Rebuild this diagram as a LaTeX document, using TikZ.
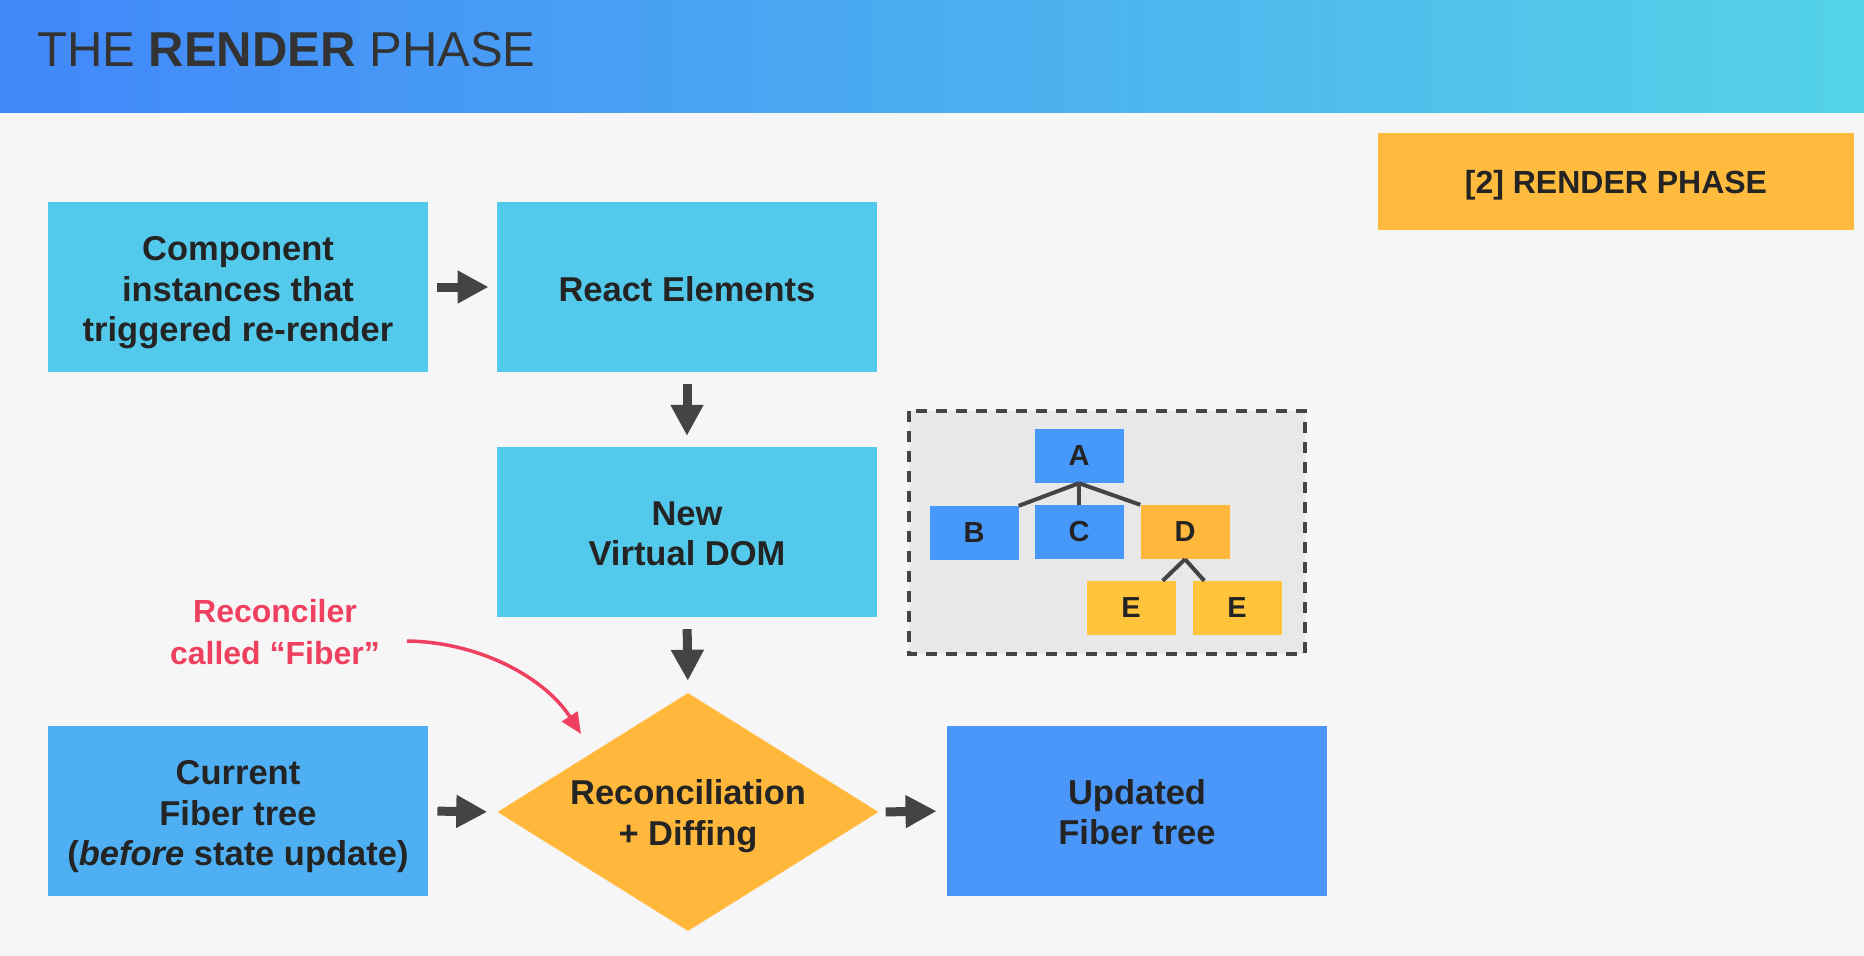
\documentclass[tikz,border=0pt]{standalone}
\usepackage{fontspec}
\setmainfont{Liberation Sans}
\usetikzlibrary{arrows.meta,shapes.geometric}
\definecolor{bg}{HTML}{F6F6F6}
\definecolor{hdrL}{HTML}{4287FA}
\definecolor{hdrR}{HTML}{54D3E7}
\definecolor{cyanbox}{HTML}{53C9EB}
\definecolor{curblue}{HTML}{4FAFF3}
\definecolor{updblue}{HTML}{4A97F9}
\definecolor{treeblue}{HTML}{4698FA}
\definecolor{orangeD}{HTML}{FFB83C}
\definecolor{yellowE}{HTML}{FFC43A}
\definecolor{phase}{HTML}{FFBB3D}
\definecolor{txt}{HTML}{242424}
\definecolor{titletxt}{HTML}{333333}
\definecolor{arr}{HTML}{444444}
\definecolor{redtxt}{HTML}{F0405F}
\definecolor{dashfill}{HTML}{E8E8E8}
\begin{document}
\begin{tikzpicture}[x=1pt,y=-1pt,
  box/.style={rectangle, inner sep=0pt, minimum width=380.5pt, minimum height=170pt},
  boxtext/.style={inner sep=0pt, align=center, text=txt, font=\fontsize{34.5}{40.5}\selectfont\bfseries},
  bigarrow/.style={draw=arr, line width=9pt, -{Triangle[length=31pt,width=31pt]}},
  treenode/.style={rectangle, inner sep=0pt, minimum width=89pt, minimum height=54pt,
    text=txt, font=\fontsize{29}{30}\selectfont\bfseries},
  treeedge/.style={draw=arr, line width=4pt}
]
\useasboundingbox (0,0) rectangle (1864,956);
\fill[bg] (0,0) rectangle (1864,956);
\shade[left color=hdrL, right color=hdrR] (0,0) rectangle (1864,112);
\node[anchor=base west, inner sep=0pt, text=titletxt, font=\fontsize{49}{55}\selectfont] (title) at (37,66)
  {THE \textbf{RENDER} PHASE};

% phase label
\node[rectangle, fill=phase, inner sep=0pt, minimum width=476pt, minimum height=97pt] (phaselbl) at (1616,181.5) {};
\node[inner sep=0pt, text=txt, font=\fontsize{32}{36}\selectfont\bfseries] (phasetxt)
  at ([yshift=-4pt]phaselbl.center) {[2] RENDER PHASE};

% main boxes
\node[box, fill=cyanbox] (comp) at (238,287) {};
\node[box, fill=cyanbox] (elem) at (687,287) {};
\node[box, fill=cyanbox] (vdom) at (687,532) {};
\node[box, fill=curblue] (cur) at (238,811) {};
\node[box, fill=updblue] (upd) at (1137,811) {};
\node[diamond, fill=orangeD, inner sep=0pt, aspect=1.6, minimum width=381pt, minimum height=238pt] (rec) at (688,812) {};

\node[boxtext] (comptxt) at ([yshift=-6pt]comp.center) {Component\\instances that\\triggered re-render};
\node[boxtext] (elemtxt) at ([yshift=-2pt]elem.center) {React Elements};
\node[boxtext] (vdomtxt) at ([yshift=-2pt]vdom.center) {New\\Virtual DOM};
\node[boxtext] (curtxt) at ([yshift=-6pt]cur.center) {Current\\Fiber tree\\(\textit{before} state update)};
\node[boxtext] (updtxt) at ([yshift=-1pt]upd.center) {Updated\\Fiber tree};
\node[boxtext] (rectxt) at ([yshift=-4pt]rec.center) {Reconciliation\\+ Diffing};

% arrows
\draw[bigarrow, shorten <=9pt, shorten >=8pt] (comp.east) -- (elem.west);
\draw[bigarrow, shorten <=12pt, shorten >=11pt] (elem.south) -- (vdom.north);
\draw[bigarrow, shorten <=12pt, shorten >=12pt] (vdom.south) -- (rec.north);
\draw[bigarrow, shorten <=9pt, shorten >=10pt] (cur.east) -- (rec.west);
\draw[bigarrow, shorten <=7pt, shorten >=10pt] (rec.east) -- (upd.west);

% reconciler label
\node[align=center, text=redtxt, inner sep=0pt, font=\fontsize{32}{42}\selectfont\bfseries] (fiberlbl) at (275,632)
  {Reconciler\\called “Fiber”};
\coordinate (fstart) at (407,641);
\coordinate (fend) at (581,734);
\draw[draw=redtxt, line width=3.5pt, -{Triangle[length=21pt,width=18pt]}]
  (fstart) .. controls (480,642) and (545,678) .. (fend);

% virtual DOM tree panel
\draw[draw=arr, line width=4pt, dash pattern=on 11pt off 9pt, fill=dashfill] (909,411) rectangle (1305,654);
\node[treenode, fill=treeblue] (A) at (1079,456) {A};
\node[treenode, fill=treeblue] (B) at (974,533) {B};
\node[treenode, fill=treeblue] (C) at (1079,532) {C};
\node[treenode, fill=orangeD] (D) at (1185,532) {D};
\node[treenode, fill=yellowE] (E1) at (1131,608) {E};
\node[treenode, fill=yellowE] (E2) at (1237,608) {E};
\draw[treeedge] (A.south) -- (B.north east);
\draw[treeedge] (A.south) -- (C.north);
\draw[treeedge] (A.south) -- (D.north west);
\draw[treeedge] (D.south) -- ([xshift=-13pt]E1.north east);
\draw[treeedge] (D.south) -- ([xshift=12pt]E2.north west);
\end{tikzpicture}
\end{document}
